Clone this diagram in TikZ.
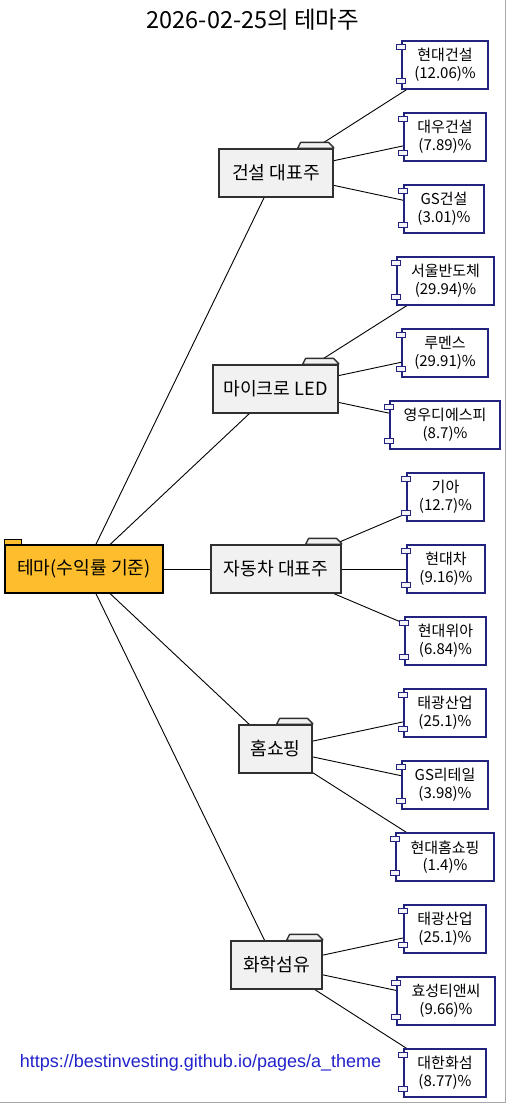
\documentclass[tikz,border=0pt]{standalone}
\usepackage{fontspec}
\setmainfont{Noto Sans CJK KR}
\newfontfamily\urlfont{Liberation Sans}
\usetikzlibrary{calc,backgrounds}
\definecolor{rootfill}{HTML}{FDBD2D}
\definecolor{grpfill}{HTML}{F1F1F1}
\definecolor{grpborder}{HTML}{303030}
\definecolor{leafborder}{HTML}{22227F}
\definecolor{portfill}{HTML}{F4F4FA}
\definecolor{urlblue}{HTML}{2222CC}
\definecolor{framegray}{HTML}{A8A8A8}
\tikzset{
  rootbox/.style={draw=black, fill=rootfill, line width=1.1pt, minimum width=158pt, minimum height=48pt, inner sep=0pt, font=\fontsize{18.2}{22}\selectfont},
  grpbox/.style={draw=grpborder, fill=grpfill, line width=1.2pt, minimum height=48pt, inner sep=0pt, font=\fontsize{18.2}{22}\selectfont},
  leafbox/.style={draw=leafborder, fill=white, line width=1.2pt, minimum height=48pt, inner sep=0pt, align=center, font=\fontsize{15}{17.5}\selectfont},
  grptab/.style={draw=grpborder, fill=grpfill, line width=1.4pt, line join=round},
  portbox/.style={draw=leafborder, fill=portfill, line width=1pt},
  link/.style={draw=black, line width=0.9pt},
}
\newcommand\mkleaf[5]{% name, cx, cy, width, text
  \node[leafbox, minimum width=#4pt] (#1) at (#2,#3) {#5};
  \draw[portbox] ($(#1.north west)+(-4.5,4)$) rectangle ($(#1.north west)+(4.5,9)$);
  \draw[portbox] ($(#1.south west)+(-4.5,-11)$) rectangle ($(#1.south west)+(4.5,-6)$);
}
\newcommand\mkgroup[5]{% name, cx, cy, width, text
  \node[grpbox, minimum width=#4pt] (#1) at (#2,#3) {#5};
  \draw[grptab] ($(#1.north east)+(-36,0)$) -- ($(#1.north east)+(-33,-6)$) -- ($(#1.north east)+(-5,-6)$) -- ($(#1.north east)+(0,-1)$) -- (#1.north east) -- cycle;
}
\begin{document}
\begin{tikzpicture}[x=1pt,y=-1pt]
\useasboundingbox (0,0) rectangle (507,1103);
\draw[framegray, line width=1pt] (505.5,0) -- (505.5,1102.5) coordinate (fc) -- (0,1102.5);

\node[font=\fontsize{23.5}{27}\selectfont] (title) at (253,20) {2026-02-25의 테마주};

% root
\node[rootbox] (root) at (84,569) {테마(수익률 기준)};
\draw[draw=black, fill=rootfill, line width=1pt] (root.north west) -- ++(0,-5) -- ++(17,0) -- ++(0,5) -- cycle;

% groups
\mkgroup{g1}{276}{173}{114}{건설 대표주}
\mkgroup{g2}{275.5}{389}{125}{마이크로 LED}
\mkgroup{g3}{276}{569}{130}{자동차 대표주}
\mkgroup{g4}{275.5}{749}{73}{홈쇼핑}
\mkgroup{g5}{276.5}{965}{91}{화학섬유}

% leaves
\mkleaf{l1}{445}{65}{86}{현대건설\\(12.06)\%}
\mkleaf{l2}{445}{137}{82}{대우건설\\(7.89)\%}
\mkleaf{l3}{444}{209}{80}{GS건설\\(3.01)\%}
\mkleaf{l4}{445.5}{281}{97}{서울반도체\\(29.94)\%}
\mkleaf{l5}{445}{353}{86}{루멘스\\(29.91)\%}
\mkleaf{l6}{445}{425}{110}{영우디에스피\\(8.7)\%}
\mkleaf{l7}{445.5}{497}{77}{기아\\(12.7)\%}
\mkleaf{l8}{446}{569}{78}{현대차\\(9.16)\%}
\mkleaf{l9}{445.5}{641}{81}{현대위아\\(6.84)\%}
\mkleaf{l10}{445}{713}{82}{태광산업\\(25.1)\%}
\mkleaf{l11}{445}{785}{86}{GS리테일\\(3.98)\%}
\mkleaf{l12}{445}{857}{98}{현대홈쇼핑\\(1.4)\%}
\mkleaf{l13}{445}{929}{82}{태광산업\\(25.1)\%}
\mkleaf{l14}{446}{1001}{98}{효성티앤씨\\(9.66)\%}
\mkleaf{l15}{445}{1073}{82}{대한화섬\\(8.77)\%}

\node[font=\urlfont\fontsize{18}{21}\selectfont, text=urlblue, inner sep=0pt] (url) at (200.5,1063) {https://bestinvesting.github.io/pages/a\_theme};

\begin{scope}[on background layer]
\fill[white] (0,0) rectangle (505,1102);
\foreach \g in {g1,g2,g3,g4,g5} \draw[link] (root) -- (\g);
\draw[link] (g1) -- (l1); \draw[link] (g1) -- (l2); \draw[link] (g1) -- (l3);
\draw[link] (g2) -- (l4); \draw[link] (g2) -- (l5); \draw[link] (g2) -- (l6);
\draw[link] (g3) -- (l7); \draw[link] (g3) -- (l8); \draw[link] (g3) -- (l9);
\draw[link] (g4) -- (l10); \draw[link] (g4) -- (l11); \draw[link] (g4) -- (l12);
\draw[link] (g5) -- (l13); \draw[link] (g5) -- (l14); \draw[link] (g5) -- (l15);
\end{scope}
\end{tikzpicture}
\end{document}
